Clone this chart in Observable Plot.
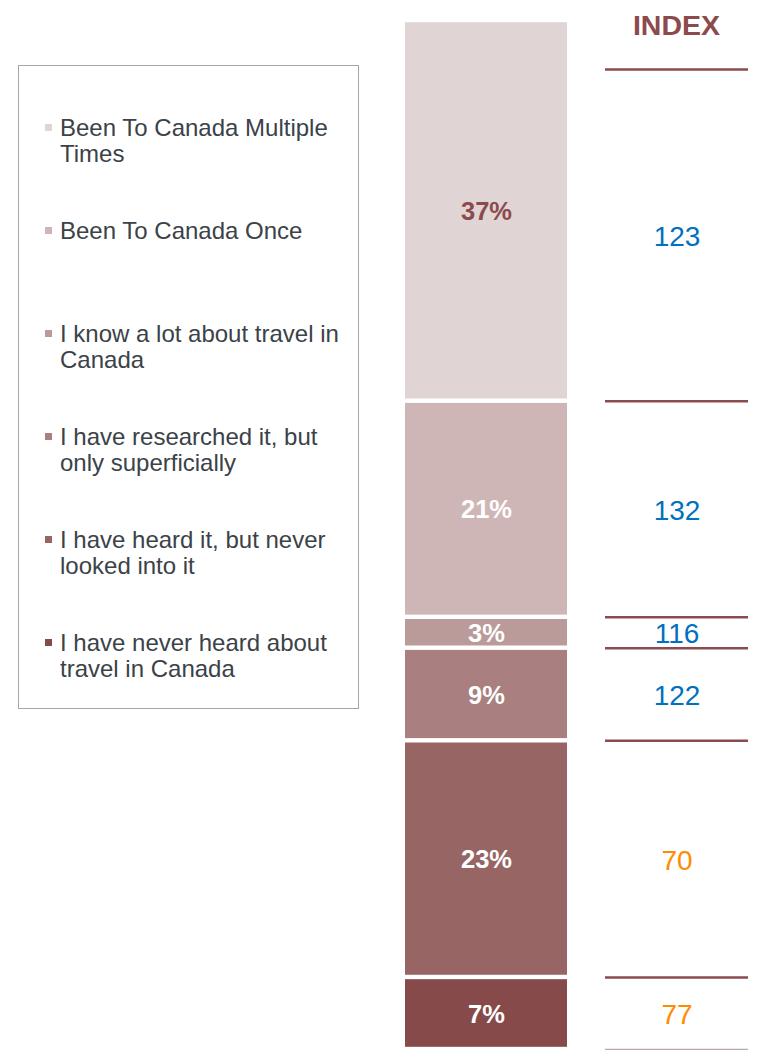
<!DOCTYPE html>
<html>
<head>
<meta charset="utf-8">
<script src="https://cdn.jsdelivr.net/npm/d3@7"></script>
<script src="https://cdn.jsdelivr.net/npm/@observablehq/plot@0.6"></script>
<style>
  html, body { margin: 0; padding: 0; background: #fff; }
  body { position: relative; width: 759px; height: 1050px; overflow: hidden;
         font-family: "Liberation Sans", Arial, sans-serif; }
  #chart { position: absolute; left: 0; top: 0; }
  #legendBox { position: absolute; left: 18px; top: 65px; width: 341px; height: 644px;
               box-sizing: border-box; border: 1.5px solid #A6A6A6; }
  #legendItems { position: absolute; left: 45px; top: 115.4px; }
  .item { display: flex; align-items: flex-start; height: 103px; }
  .swatch { width: 7px; height: 7px; margin-top: 8.5px; flex: none; }
  .label { margin-left: 8px; width: 290px; font-size: 24px; line-height: 26px; color: #3B4248; }
  #indexHead { position: absolute; left: 605px; width: 143px; top: 11px; text-align: center;
               font-weight: bold; font-size: 28.5px; line-height: 28.5px; color: #8B4A4C; }
</style>
</head>
<body>
<div id="legendBox"></div>
<div id="legendItems"></div>
<div id="indexHead">INDEX</div>
<div id="chart"></div>
<script>
// ---- data ----
const categories = [
  "Been To Canada Multiple Times",
  "Been To Canada Once",
  "I know a lot about travel in Canada",
  "I have researched it, but only superficially",
  "I have heard it, but never looked into it",
  "I have never heard about travel in Canada"
];
const shares = [37, 21, 3, 9, 23, 7];
const indexValues = [123, 132, 116, 122, 70, 77];
const colors = ["#E0D4D4", "#CFB6B6", "#BB9A9A", "#A97F7F", "#986565", "#874A4B"];

// ---- layout constants ----
const W = 759, H = 1050;
const marginTop = 20, marginBottom = 1;
const headerRulePx = 69; // bottom rule of the "INDEX" header cell
const plotH = H - marginTop - marginBottom;
const indexTop = (headerRulePx - marginTop) / plotH * 100;

const cum = d3.cumsum(shares);
const rows = categories.map((c, i) => ({
  category: c,
  share: shares[i],
  index: indexValues[i],
  lo: i === 0 ? 0 : cum[i - 1],
  hi: cum[i],
  rowLo: i === 0 ? indexTop : cum[i - 1]
}));
const boundaries = Array.from(cum).slice(0, -1);

const font = "'Liberation Sans', Arial, sans-serif";

const chart = Plot.plot({
  width: W,
  height: H,
  marginLeft: 405,
  marginRight: 11,
  marginTop,
  marginBottom,
  style: { fontFamily: font, background: "transparent" },
  x: { type: "band", domain: ["Share", "Index"], paddingInner: 0.105, paddingOuter: 0, axis: null },
  y: { domain: [0, 100], reverse: true, axis: null },
  color: { domain: categories, range: colors },
  marks: [
    Plot.barY(rows, { x: () => "Share", y1: "lo", y2: "hi", fill: "category", insetTop: 2.2, insetBottom: 2.2 }),
    Plot.text(rows, {
      x: () => "Share", y: d => (d.lo + d.hi) / 2, text: d => d.share + "%",
      fill: (d, i) => i === 0 ? "#8B4A4C" : "#FFFFFF",
      fontSize: 25.5, fontWeight: "bold", dy: 1
    }),
    Plot.tickY([indexTop, ...boundaries], { x: () => "Index", y: d => d, stroke: "#8B4A4C", strokeWidth: 2.6, insetLeft: 19 }),
    Plot.tickY([100], { x: () => "Index", y: d => d, stroke: "#BBA8A9", strokeWidth: 1.5, insetLeft: 19 }),
    Plot.text(rows, {
      x: () => "Index", y: d => (d.rowLo + d.hi) / 2, text: d => String(d.index),
      fill: d => d.index >= 100 ? "#0070C0" : "#FF8C00",
      fontSize: 28, dx: 9.5, dy: 1.5
    })
  ]
});
document.getElementById("chart").appendChild(chart);

// ---- legend (from the same color scale) ----
const colorScale = chart.scale("color");
const legend = document.getElementById("legendItems");
categories.forEach((c, i) => {
  const item = document.createElement("div");
  item.className = "item";
  const sw = document.createElement("span");
  sw.className = "swatch";
  sw.style.background = colorScale.range[i];
  const lab = document.createElement("span");
  lab.className = "label";
  lab.textContent = c;
  item.appendChild(sw);
  item.appendChild(lab);
  legend.appendChild(item);
});
</script>
</body>
</html>
